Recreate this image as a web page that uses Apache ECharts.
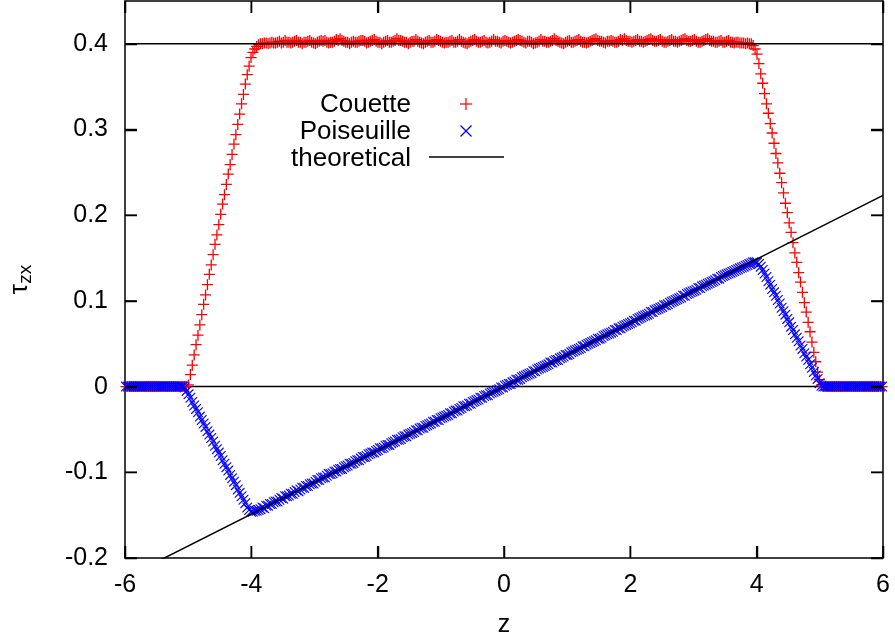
<!DOCTYPE html>
<html>
<head>
<meta charset="utf-8">
<script src="https://cdn.jsdelivr.net/npm/echarts@6/dist/echarts.min.js"></script>
<style>html,body{margin:0;padding:0;background:#fff}#c{width:895px;height:639px}</style>
</head>
<body>
<div id="c"></div>
<script>
// sampling positions z (bin centres)
var z = [
-5.985,-5.955,-5.925,-5.895,-5.865,-5.835,-5.805,-5.775,-5.745,-5.715,
-5.685,-5.655,-5.625,-5.595,-5.565,-5.535,-5.505,-5.475,-5.445,-5.415,
-5.385,-5.355,-5.325,-5.295,-5.265,-5.235,-5.205,-5.175,-5.145,-5.115,
-5.085,-5.055,-5.025,-4.995,-4.965,-4.935,-4.905,-4.875,-4.845,-4.815,
-4.785,-4.755,-4.725,-4.695,-4.665,-4.635,-4.605,-4.575,-4.545,-4.515,
-4.485,-4.455,-4.425,-4.395,-4.365,-4.335,-4.305,-4.275,-4.245,-4.215,
-4.185,-4.155,-4.125,-4.095,-4.065,-4.035,-4.005,-3.975,-3.945,-3.915,
-3.885,-3.855,-3.825,-3.795,-3.765,-3.735,-3.705,-3.675,-3.645,-3.615,
-3.585,-3.555,-3.525,-3.495,-3.465,-3.435,-3.405,-3.375,-3.345,-3.315,
-3.285,-3.255,-3.225,-3.195,-3.165,-3.135,-3.105,-3.075,-3.045,-3.015,
-2.985,-2.955,-2.925,-2.895,-2.865,-2.835,-2.805,-2.775,-2.745,-2.715,
-2.685,-2.655,-2.625,-2.595,-2.565,-2.535,-2.505,-2.475,-2.445,-2.415,
-2.385,-2.355,-2.325,-2.295,-2.265,-2.235,-2.205,-2.175,-2.145,-2.115,
-2.085,-2.055,-2.025,-1.995,-1.965,-1.935,-1.905,-1.875,-1.845,-1.815,
-1.785,-1.755,-1.725,-1.695,-1.665,-1.635,-1.605,-1.575,-1.545,-1.515,
-1.485,-1.455,-1.425,-1.395,-1.365,-1.335,-1.305,-1.275,-1.245,-1.215,
-1.185,-1.155,-1.125,-1.095,-1.065,-1.035,-1.005,-0.975,-0.945,-0.915,
-0.885,-0.855,-0.825,-0.795,-0.765,-0.735,-0.705,-0.675,-0.645,-0.615,
-0.585,-0.555,-0.525,-0.495,-0.465,-0.435,-0.405,-0.375,-0.345,-0.315,
-0.285,-0.255,-0.225,-0.195,-0.165,-0.135,-0.105,-0.075,-0.045,-0.015,
0.015,0.045,0.075,0.105,0.135,0.165,0.195,0.225,0.255,0.285,
0.315,0.345,0.375,0.405,0.435,0.465,0.495,0.525,0.555,0.585,
0.615,0.645,0.675,0.705,0.735,0.765,0.795,0.825,0.855,0.885,
0.915,0.945,0.975,1.005,1.035,1.065,1.095,1.125,1.155,1.185,
1.215,1.245,1.275,1.305,1.335,1.365,1.395,1.425,1.455,1.485,
1.515,1.545,1.575,1.605,1.635,1.665,1.695,1.725,1.755,1.785,
1.815,1.845,1.875,1.905,1.935,1.965,1.995,2.025,2.055,2.085,
2.115,2.145,2.175,2.205,2.235,2.265,2.295,2.325,2.355,2.385,
2.415,2.445,2.475,2.505,2.535,2.565,2.595,2.625,2.655,2.685,
2.715,2.745,2.775,2.805,2.835,2.865,2.895,2.925,2.955,2.985,
3.015,3.045,3.075,3.105,3.135,3.165,3.195,3.225,3.255,3.285,
3.315,3.345,3.375,3.405,3.435,3.465,3.495,3.525,3.555,3.585,
3.615,3.645,3.675,3.705,3.735,3.765,3.795,3.825,3.855,3.885,
3.915,3.945,3.975,4.005,4.035,4.065,4.095,4.125,4.155,4.185,
4.215,4.245,4.275,4.305,4.335,4.365,4.395,4.425,4.455,4.485,
4.515,4.545,4.575,4.605,4.635,4.665,4.695,4.725,4.755,4.785,
4.815,4.845,4.875,4.905,4.935,4.965,4.995,5.025,5.055,5.085,
5.115,5.145,5.175,5.205,5.235,5.265,5.295,5.325,5.355,5.385,
5.415,5.445,5.475,5.505,5.535,5.565,5.595,5.625,5.655,5.685,
5.715,5.745,5.775,5.805,5.835,5.865,5.895,5.925,5.955,5.985
];

// Couette shear stress tau_zx
var couette = [
0,0,0,0,0,0,0,0,0,0, 0,0,0,0,0,0,0,0,0,0, 0,0,0,0,0,0,0,0,0,0, 0,0,0,
0.002,0.014,0.025,0.037,0.049,0.060,0.072,0.084,0.096,0.107,0.119,0.131,0.142,0.154,0.166,0.177,0.189,
0.201,0.213,0.224,0.236,0.248,0.259,0.271,0.283,0.294,0.306,0.318,0.330,0.341,0.353,0.364,0.374,0.384,
0.390,0.394,0.397,0.399,0.400,
0.400,0.401,0.401,0.400,0.401,0.402,0.401,0.401,0.402,0.403,
0.401,0.402,0.404,0.402,0.402,0.401,0.402,0.403,0.404,0.402,
0.402,0.400,0.402,0.402,0.403,0.404,0.402,0.401,0.400,0.402,
0.403,0.404,0.403,0.404,0.402,0.401,0.402,0.402,0.403,0.405,
0.404,0.406,0.404,0.403,0.402,0.402,0.400,0.402,0.403,0.402,
0.402,0.403,0.404,0.404,0.403,0.401,0.402,0.403,0.404,0.405,
0.403,0.402,0.402,0.400,0.402,0.403,0.404,0.402,0.402,0.403,
0.404,0.406,0.404,0.404,0.403,0.402,0.402,0.400,0.402,0.403,
0.403,0.405,0.403,0.402,0.401,0.400,0.402,0.403,0.404,0.402,
0.402,0.403,0.405,0.404,0.403,0.402,0.401,0.402,0.402,0.403,
0.404,0.402,0.402,0.403,0.405,0.403,0.402,0.401,0.400,0.402,
0.403,0.404,0.405,0.403,0.402,0.402,0.403,0.404,0.402,0.401,
0.402,0.403,0.405,0.403,0.403,0.402,0.401,0.403,0.404,0.403,
0.402,0.401,0.402,0.403,0.404,0.405,0.404,0.403,0.402,0.401,
0.403,0.403,0.402,0.400,0.401,0.402,0.403,0.405,0.403,0.403,
0.402,0.402,0.403,0.404,0.406,0.404,0.403,0.402,0.401,0.400,
0.402,0.403,0.404,0.402,0.402,0.403,0.404,0.405,0.403,0.402,
0.402,0.401,0.402,0.403,0.404,0.405,0.406,0.404,0.403,0.403,
0.402,0.401,0.403,0.403,0.404,0.403,0.402,0.402,0.403,0.405,
0.404,0.406,0.404,0.403,0.403,0.402,0.403,0.404,0.405,0.403,
0.403,0.402,0.403,0.404,0.405,0.406,0.404,0.403,0.403,0.404,
0.405,0.403,0.402,0.402,0.403,0.404,0.405,0.403,0.403,0.402,
0.403,0.404,0.405,0.406,0.404,0.403,0.403,0.404,0.405,0.403,
0.402,0.402,0.403,0.404,0.405,0.406,0.404,0.403,0.403,0.402,
0.402,0.403,0.404,0.402,0.402,0.403,0.404,0.402,0.402,0.401,
0.402,0.402,0.401,0.401,0.401,0.400,0.401,0.400,
0.400,0.398,0.394,0.388,0.377,0.365,0.354,0.342,0.330,0.319,0.307,0.296,0.284,0.272,0.261,0.249,0.238,0.226,0.214,
0.203,0.191,0.180,0.168,0.156,0.145,0.133,0.122,0.110,0.098,0.087,0.075,0.064,0.052,0.040,0.029,0.017,0.008,0.002,
0,0,0,0,0,0,0,0,0,0, 0,0,0,0,0,0,0,0,0,0, 0,0,0,0,0,0,0,0,0,0, 0,0
];

// Poiseuille shear stress tau_zx
var poiseuille = [
0,0,0,0,0,0,0,0,0,0, 0,0,0,0,0,0,0,0,0,0, 0,0,0,0,0,0,0,0,0,0, 0,-0.001,
-0.005,-0.009,-0.013,-0.018,-0.022,-0.026,-0.030,-0.035,-0.039,-0.043,
-0.047,-0.052,-0.056,-0.060,-0.064,-0.069,-0.073,-0.077,-0.081,-0.086,
-0.090,-0.094,-0.098,-0.103,-0.107,-0.111,-0.115,-0.120,-0.124,-0.128,
-0.132,-0.136,-0.141,-0.144,-0.146,-0.146,-0.145,-0.145,
-0.144,-0.143,-0.141,-0.142,-0.139,-0.139,-0.137,-0.137,-0.135,-0.134,
-0.134,-0.132,-0.130,-0.131,-0.128,-0.128,-0.127,-0.125,-0.125,-0.123,
-0.121,-0.122,-0.120,-0.118,-0.118,-0.116,-0.116,-0.114,-0.113,-0.113,
-0.111,-0.109,-0.109,-0.107,-0.106,-0.106,-0.104,-0.102,-0.102,-0.101,
-0.099,-0.099,-0.097,-0.096,-0.096,-0.094,-0.093,-0.092,-0.090,-0.090,
-0.089,-0.087,-0.086,-0.086,-0.084,-0.082,-0.082,-0.081,-0.079,-0.078,
-0.077,-0.077,-0.075,-0.074,-0.072,-0.072,-0.071,-0.069,-0.068,-0.068,
-0.066,-0.065,-0.064,-0.062,-0.062,-0.061,-0.059,-0.058,-0.058,-0.056,
-0.055,-0.054,-0.053,-0.051,-0.051,-0.049,-0.048,-0.048,-0.046,-0.045,
-0.044,-0.043,-0.041,-0.041,-0.039,-0.039,-0.037,-0.036,-0.035,-0.034,
-0.033,-0.031,-0.031,-0.029,-0.028,-0.028,-0.026,-0.025,-0.023,-0.023,
-0.022,-0.020,-0.020,-0.018,-0.017,-0.016,-0.015,-0.013,-0.013,-0.011,
-0.010,-0.010,-0.008,-0.007,-0.006,-0.005,-0.004,-0.003,-0.001,-0.001,
0.001,0.002,0.003,0.003,0.005,0.006,0.008,0.008,0.009,0.011,
0.012,0.013,0.014,0.015,0.016,0.018,0.018,0.020,0.021,0.022,
0.023,0.024,0.025,0.026,0.028,0.028,0.030,0.031,0.031,0.033,
0.034,0.035,0.037,0.037,0.038,0.040,0.041,0.042,0.043,0.044,
0.045,0.047,0.047,0.049,0.050,0.051,0.052,0.053,0.054,0.056,
0.056,0.057,0.059,0.060,0.061,0.062,0.063,0.064,0.066,0.066,
0.068,0.068,0.070,0.071,0.072,0.073,0.074,0.075,0.077,0.077,
0.079,0.080,0.081,0.082,0.083,0.084,0.085,0.087,0.087,0.089,
0.090,0.091,0.092,0.093,0.095,0.095,0.096,0.098,0.099,0.100,
0.101,0.102,0.103,0.104,0.106,0.106,0.108,0.109,0.110,0.111,
0.112,0.113,0.115,0.115,0.117,0.118,0.119,0.120,0.121,0.122,
0.123,0.124,0.126,0.126,0.128,0.129,0.130,0.131,0.132,0.133,
0.134,0.135,0.136,0.137,0.138,0.139,0.140,0.141,0.142,0.143,
0.144,0.145,0.145,0.145,0.143,0.140,0.136,
0.132,0.128,0.123,0.119,0.114,0.110,0.106,0.101,0.097,0.092,
0.088,0.084,0.079,0.075,0.070,0.066,0.061,0.057,0.053,0.048,
0.044,0.039,0.035,0.031,0.026,0.022,0.017,0.013,0.009,0.004,
0.001,
0,0,0,0,0,0,0,0,0,0, 0,0,0,0,0,0,0,0,0,0, 0,0,0,0,0,0,0,0,0,0, 0,0
];

// theoretical curves
var theoryZ = [-6, 6];
var theoryCouette = [0.4, 0.4];
var theoryZero = [0, 0];
var theoryPoiseuille = [-0.2232, 0.2232];

// axis ticks
var xTicks = [-6, -4, -2, 0, 2, 4, 6];
var yTicks = [-0.2, -0.1, 0, 0.1, 0.2, 0.3, 0.4];

if (z.length !== couette.length || z.length !== poiseuille.length) {
  throw new Error('length mismatch z=' + z.length + ' c=' + couette.length + ' p=' + poiseuille.length);
}

var X_MIN = -6, X_MAX = 6, Y_MIN = -0.2, Y_MAX = 0.45;
var GRID = { left: 125, right: 12, top: 1, bottom: 81 };
var W = 895, H = 639;
var FONT = "'Liberation Sans', Arial, Helvetica, sans-serif";
var PLUS = 'path://M0,4.4H10V5.6H0Z M4.4,0H5.6V10H4.4Z';
var CROSS = 'path://M0,0L0.8,0L10,9.2L10,10L9.2,10L0,0.8Z M10,0L10,0.8L0.8,10L0,10L0,9.2L9.2,0Z';
var TICK_LEN = 12;
var TX = TICK_LEN * (X_MAX - X_MIN) / (W - GRID.left - GRID.right);
var TY = TICK_LEN * (Y_MAX - Y_MIN) / (H - GRID.top - GRID.bottom);

function pairs(xs, ys) { return xs.map(function (x, k) { return [x, ys[k]]; }); }

function yFmt(v) {
  for (var k = 0; k < yTicks.length; k++) if (Math.abs(yTicks[k] - v) < 1e-6) return String(Math.round(v * 10) / 10);
  return '';
}

function tickSeries(a, b) {
  return { type: 'line', data: [a, b], showSymbol: false, symbol: 'none', silent: true, z: 6, clip: false,
    lineStyle: { color: '#000', width: 1.5 } };
}

var chart = echarts.init(document.getElementById('c'));

function axisBase() {
  return {
    axisLine: { show: true, onZero: false, lineStyle: { color: '#000', width: 1.5 } },
    axisTick: { show: false },
    splitLine: { show: false }
  };
}

var series = [
  { name: 'zero', type: 'line', data: pairs(theoryZ, theoryZero), showSymbol: false, symbol: 'none',
    lineStyle: { color: '#000', width: 1.5 }, silent: true, z: 1 },
  { name: 'Couette', type: 'scatter', data: pairs(z, couette), symbol: PLUS, symbolSize: 11,
    itemStyle: { color: '#ff0000', opacity: 1 }, silent: true, z: 2 },
  { name: 'Poiseuille', type: 'scatter', data: pairs(z, poiseuille), symbol: CROSS, symbolSize: 10,
    itemStyle: { color: '#0000ff', opacity: 1 }, silent: true, z: 3 },
  { name: 'theoretical', type: 'line', data: pairs(theoryZ, theoryCouette), showSymbol: false, symbol: 'none',
    lineStyle: { color: '#000', width: 1.5 }, silent: true, z: 4 },
  { name: 'theoretical2', type: 'line', data: pairs(theoryZ, theoryPoiseuille), showSymbol: false, symbol: 'none',
    clip: true, lineStyle: { color: '#000', width: 1.5 }, silent: true, z: 4 }
];
xTicks.forEach(function (v) {
  series.push(tickSeries([v, Y_MIN], [v, Y_MIN + TY]));
  series.push(tickSeries([v, Y_MAX], [v, Y_MAX - TY]));
});
yTicks.forEach(function (v) {
  series.push(tickSeries([X_MIN, v], [X_MIN + TX, v]));
  series.push(tickSeries([X_MAX, v], [X_MAX - TX, v]));
});

// inward mirrored tick marks as graphic lines (same linear mapping as the grid)
function px(v) { return GRID.left + (v - X_MIN) / (X_MAX - X_MIN) * (W - GRID.left - GRID.right); }
function py(v) { return H - GRID.bottom - (v - Y_MIN) / (Y_MAX - Y_MIN) * (H - GRID.top - GRID.bottom); }
var tickGraphics = [];
xTicks.forEach(function (v) {
  var x = Math.round(px(v)) + 0.5;
  tickGraphics.push({ type: 'line', z: 20, silent: true, shape: { x1: x, y1: py(Y_MIN), x2: x, y2: py(Y_MIN) - TICK_LEN }, style: { stroke: '#000', lineWidth: 1.5 } });
  tickGraphics.push({ type: 'line', z: 20, silent: true, shape: { x1: x, y1: py(Y_MAX), x2: x, y2: py(Y_MAX) + TICK_LEN }, style: { stroke: '#000', lineWidth: 1.5 } });
});
yTicks.forEach(function (v) {
  var y = Math.round(py(v)) + 0.5;
  tickGraphics.push({ type: 'line', z: 20, silent: true, shape: { x1: px(X_MIN), y1: y, x2: px(X_MIN) + TICK_LEN, y2: y }, style: { stroke: '#000', lineWidth: 1.5 } });
  tickGraphics.push({ type: 'line', z: 20, silent: true, shape: { x1: px(X_MAX), y1: y, x2: px(X_MAX) - TICK_LEN, y2: y }, style: { stroke: '#000', lineWidth: 1.5 } });
});

var legendGraphics = [
  { type: 'text', z: 10, style: { text: 'Couette', x: 411, y: 105, align: 'right', verticalAlign: 'middle', font: '26px ' + FONT, fill: '#000' } },
  { type: 'text', z: 10, style: { text: 'Poiseuille', x: 411, y: 132, align: 'right', verticalAlign: 'middle', font: '26px ' + FONT, fill: '#000' } },
  { type: 'text', z: 10, style: { text: 'theoretical', x: 411, y: 159, align: 'right', verticalAlign: 'middle', font: '26px ' + FONT, fill: '#000' } },
  { type: 'line', z: 10, shape: { x1: 460, y1: 104, x2: 472, y2: 104 }, style: { stroke: '#ff0000', lineWidth: 1.2 } },
  { type: 'line', z: 10, shape: { x1: 466, y1: 98, x2: 466, y2: 110 }, style: { stroke: '#ff0000', lineWidth: 1.2 } },
  { type: 'line', z: 10, shape: { x1: 460.5, y1: 125.5, x2: 471.5, y2: 136.5 }, style: { stroke: '#0000ff', lineWidth: 1.2 } },
  { type: 'line', z: 10, shape: { x1: 460.5, y1: 136.5, x2: 471.5, y2: 125.5 }, style: { stroke: '#0000ff', lineWidth: 1.2 } },
  { type: 'line', z: 10, shape: { x1: 429, y1: 157, x2: 504, y2: 157 }, style: { stroke: '#000', lineWidth: 1.5 } }
];

var option = {
  animation: false,
  backgroundColor: '#fff',
  grid: { left: GRID.left, right: GRID.right, top: GRID.top, bottom: GRID.bottom,
          containLabel: false, outerBoundsMode: 'none' },
  xAxis: [
    Object.assign(axisBase(), {
      type: 'value', min: X_MIN, max: X_MAX, interval: 2, position: 'bottom',
      name: 'z', nameLocation: 'middle', nameGap: 55,
      nameTextStyle: { fontFamily: FONT, fontSize: 25, color: '#000' },
      axisLabel: { margin: 15, fontFamily: FONT, fontSize: 25, color: '#000',
        formatter: function (v) { return xTicks.indexOf(v) >= 0 ? String(v) : ''; } }
    }),
    Object.assign(axisBase(), {
      type: 'value', min: X_MIN, max: X_MAX, interval: 2, position: 'top',
      axisLabel: { show: false }
    })
  ],
  yAxis: [
    Object.assign(axisBase(), {
      type: 'value', min: Y_MIN, max: Y_MAX, interval: 0.1, position: 'left',
      name: '{t|τ}{s|zx}', nameLocation: 'middle', nameGap: 90, nameRotate: 90,
      nameTextStyle: { fontFamily: FONT, color: '#000',
        rich: { t: { fontFamily: FONT, fontSize: 26, color: '#000' },
                s: { fontFamily: FONT, fontSize: 19, color: '#000', padding: [11, 0, 0, 0] } } },
      axisLabel: { margin: 17, fontFamily: FONT, fontSize: 25, color: '#000', formatter: yFmt }
    }),
    Object.assign(axisBase(), {
      type: 'value', min: Y_MIN, max: Y_MAX, interval: 0.1, position: 'right',
      axisLabel: { show: false }
    })
  ],
  series: series,
  graphic: legendGraphics.concat(tickGraphics)
};
chart.setOption(option);
</script>
</body>
</html>
